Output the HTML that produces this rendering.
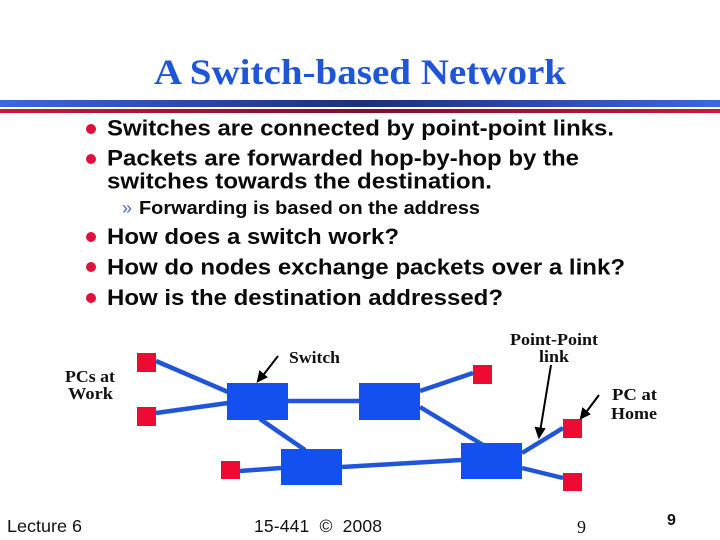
<!DOCTYPE html>
<html><head><meta charset="utf-8"><style>
html,body{margin:0;padding:0;background:#fff}
svg{display:block}
.b{font-family:"Liberation Sans",sans-serif;font-weight:bold;fill:#0a0a0a}
.s{font-family:"Liberation Serif",serif;font-weight:bold;fill:#111}
.f{font-family:"Liberation Sans",sans-serif;fill:#111}
</style></head><body>
<svg width="720" height="540" viewBox="0 0 720 540" xmlns="http://www.w3.org/2000/svg">
<defs>
<linearGradient id="gb"><stop offset="0" stop-color="#3a68e0"/><stop offset=".5" stop-color="#1c2f78"/><stop offset="1" stop-color="#3a68e0"/></linearGradient>
<linearGradient id="gr"><stop offset="0" stop-color="#d0143c"/><stop offset=".5" stop-color="#7c1028"/><stop offset="1" stop-color="#d0143c"/></linearGradient>
</defs>
<rect width="720" height="540" fill="#fff"/>
<text x="154" y="84" font-family="Liberation Serif,serif" font-weight="bold" font-size="36" fill="#1f55d8" textLength="412" lengthAdjust="spacingAndGlyphs">A Switch-based Network</text>
<rect x="0" y="100" width="720" height="7" fill="url(#gb)"/>
<rect x="0" y="109" width="720" height="4" fill="url(#gr)"/>
<g fill="#e0103c">
<circle cx="91" cy="129" r="5"/><circle cx="91" cy="159" r="5"/>
<circle cx="91" cy="237" r="5"/><circle cx="91" cy="267" r="5"/><circle cx="91" cy="298" r="5"/>
</g>
<g class="b" font-size="22.5">
<text x="107" y="135.500" textLength="507" lengthAdjust="spacingAndGlyphs">Switches are connected by point-point links.</text>
<text x="107" y="165.500" textLength="472" lengthAdjust="spacingAndGlyphs">Packets are forwarded hop-by-hop by the</text>
<text x="107" y="188.500" textLength="385" lengthAdjust="spacingAndGlyphs">switches towards the destination.</text>
<text x="107" y="244" textLength="292" lengthAdjust="spacingAndGlyphs">How does a switch work?</text>
<text x="107" y="274.500" textLength="518" lengthAdjust="spacingAndGlyphs">How do nodes exchange packets over a link?</text>
<text x="107" y="305" textLength="396" lengthAdjust="spacingAndGlyphs">How is the destination addressed?</text>
</g>
<text x="122" y="214" font-family="Liberation Sans,sans-serif" font-size="18" fill="#4a6ab0">»</text>
<text x="139" y="214" class="b" font-size="18.5" textLength="341" lengthAdjust="spacingAndGlyphs">Forwarding is based on the address</text>
<g stroke="#1f55d8" stroke-width="4.5" fill="none">
<line x1="156" y1="361" x2="228" y2="392"/>
<line x1="156" y1="413" x2="228" y2="403"/>
<line x1="288" y1="401" x2="359" y2="401"/>
<line x1="260" y1="419" x2="305" y2="450"/>
<line x1="240" y1="471" x2="281" y2="468"/>
<line x1="342" y1="467" x2="461" y2="460"/>
<line x1="420" y1="391" x2="473" y2="373"/>
<line x1="420" y1="407" x2="483" y2="445"/>
<line x1="522" y1="453" x2="563" y2="428"/>
<line x1="522" y1="468" x2="563" y2="478"/>
</g>
<g fill="#1450f0">
<rect x="227" y="383" width="61" height="37"/>
<rect x="359" y="383" width="61" height="37"/>
<rect x="281" y="449" width="61" height="36"/>
<rect x="461" y="443" width="61" height="36"/>
</g>
<g fill="#ee0a32">
<rect x="137" y="353" width="19" height="19"/>
<rect x="137" y="407" width="19" height="19"/>
<rect x="221" y="461" width="19" height="18"/>
<rect x="473" y="365" width="19" height="19"/>
<rect x="563" y="419" width="19" height="19"/>
<rect x="563" y="473" width="19" height="18"/>
</g>
<g stroke="#000" stroke-width="2" fill="#000">
<line x1="278" y1="356" x2="261" y2="378"/><polygon points="258,381 260,372 266,377"/>
<line x1="551" y1="365" x2="540" y2="432"/><polygon points="539,437 536,428 544,429"/>
<line x1="599" y1="395" x2="584" y2="415"/><polygon points="581,418 583,409 589,414"/>
</g>
<g class="s" font-size="16.500">
<text x="289" y="363" textLength="51" lengthAdjust="spacingAndGlyphs">Switch</text>
<text x="510" y="345" textLength="88" lengthAdjust="spacingAndGlyphs">Point-Point</text>
<text x="539" y="362" textLength="30" lengthAdjust="spacingAndGlyphs">link</text>
<text x="65" y="382" textLength="50" lengthAdjust="spacingAndGlyphs">PCs at</text>
<text x="68" y="399" textLength="45" lengthAdjust="spacingAndGlyphs">Work</text>
<text x="612" y="400" textLength="45" lengthAdjust="spacingAndGlyphs">PC at</text>
<text x="611" y="419" textLength="46" lengthAdjust="spacingAndGlyphs">Home</text>
</g>
<g class="f" font-size="17.500">
<text x="7" y="532" textLength="75" lengthAdjust="spacingAndGlyphs">Lecture 6</text>
<text x="254" y="532" textLength="128" xml:space="preserve">15-441  ©  2008</text>
</g>
<text x="577" y="533" font-family="Liberation Serif,serif" font-size="18" fill="#111">9</text>
<text x="667" y="525" font-family="Liberation Sans,sans-serif" font-weight="bold" font-size="16" fill="#111">9</text>
</svg>
</body></html>
